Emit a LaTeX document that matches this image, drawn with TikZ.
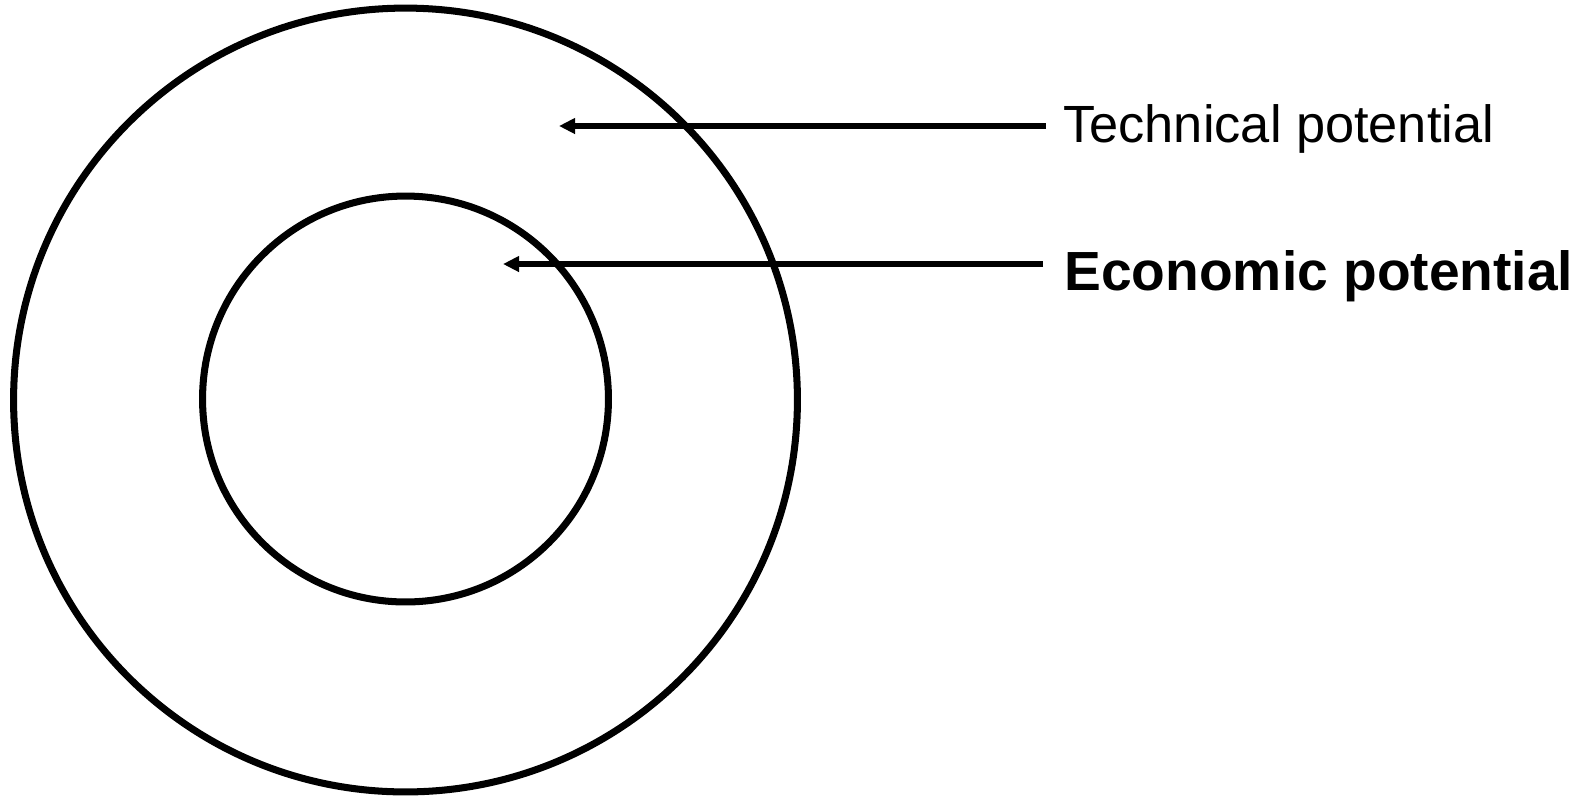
\documentclass[tikz,border=0pt]{standalone}
\usepackage{fontspec}
\setmainfont{Liberation Sans}
\usetikzlibrary{arrows.meta,positioning}
\tikzset{
    % rings for the two potentials
    ring/.style={circle, draw=black, line width=4pt, inner sep=0pt},
    % side labels
    potlabel/.style={anchor=base west, inner sep=0pt,
        font=\fontsize{29.8}{36}\selectfont},
}

\begin{document}
\begin{tikzpicture}[x=0.02cm,y=-0.02cm,
   ar/.style={-{Triangle[length=0.32cm,width=0.3cm]},line width=3.1pt}]
  \useasboundingbox (0,0) rectangle (1575,796);
  \node[ring,minimum size=15.68cm] (outer) at (405.5,400) {};
  \node[ring,minimum size=8.12cm] (inner) at (405.5,399) {};
  \node[potlabel] (tech) at (1063,142) {Technical potential};
  \node[potlabel,font=\fontsize{31.4}{38}\selectfont\bfseries] (econ) at (1064,290)
    {Economic potential};
  \coordinate (techtip) at (559,126);
  \coordinate (econtip) at (503,264);
  \coordinate (techstart) at (1046,126);
  \coordinate (econstart) at (1043,264);
  \draw[ar] (techstart) -- (techtip);
  \draw[ar] (econstart) -- (econtip);
\end{tikzpicture}
\end{document}
